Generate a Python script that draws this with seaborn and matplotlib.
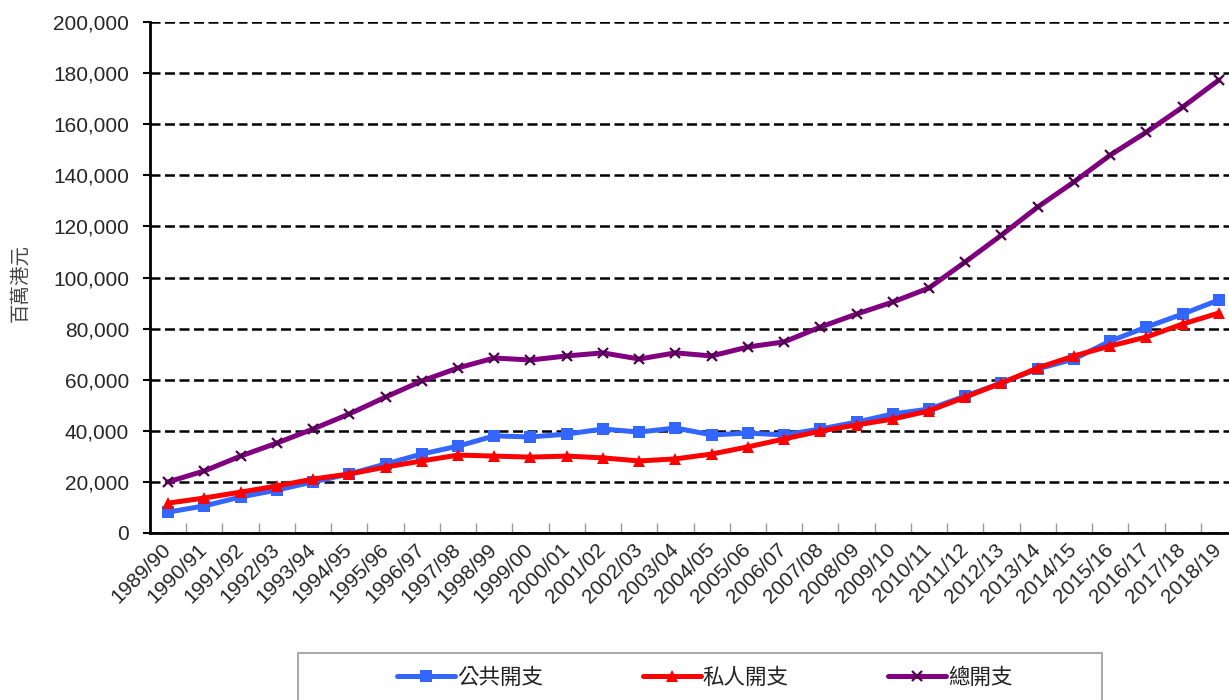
import pandas as pd
import seaborn as sns
import matplotlib.pyplot as plt
from matplotlib.patches import Rectangle
from matplotlib.ticker import FixedLocator, FuncFormatter

# 年度
years = ['1989/90', '1990/91', '1991/92', '1992/93', '1993/94', '1994/95',
         '1995/96', '1996/97', '1997/98', '1998/99', '1999/00', '2000/01',
         '2001/02', '2002/03', '2003/04', '2004/05', '2005/06', '2006/07',
         '2007/08', '2008/09', '2009/10', '2010/11', '2011/12', '2012/13',
         '2013/14', '2014/15', '2015/16', '2016/17', '2017/18', '2018/19']

# 百萬港元
public = [8200, 10600, 14100, 16800, 20000, 23100, 27000, 30900, 34000, 38000,
          37600, 38700, 40700, 39500, 41100, 38400, 39100, 38400, 40700, 43400,
          46600, 48500, 53600, 58700, 64200, 68100, 75100, 80600, 85700, 91200]
private = [11700, 13700, 16000, 18400, 21100, 23100, 25800, 28200, 30500, 30100,
           29700, 30100, 29400, 28200, 29000, 30900, 33700, 36800, 39900, 42300,
           44600, 47800, 53200, 58700, 64600, 69300, 73200, 76700, 81800, 86100]
total = [20000, 24300, 30100, 35200, 40700, 46600, 53200, 59500, 64600, 68500,
         67700, 69300, 70500, 68100, 70500, 69300, 72800, 74800, 80600, 85700,
         90400, 95900, 106100, 116600, 127600, 137400, 147900, 156900, 166700, 177300]

df = pd.DataFrame({'year': years, '公共開支': public, '私人開支': private, '總開支': total})

sns.set_style('white')
plt.rcParams['font.family'] = ['Liberation Sans', 'Noto Sans CJK TC', 'DejaVu Sans']
cjk = ['Noto Sans CJK TC', 'DejaVu Sans']

W, H = 1229, 700
fig = plt.figure(figsize=(W / 100, H / 100), dpi=100)
ax = fig.add_axes([150 / W, (H - 533) / H, 1087 / W, 511 / H])

styles = [
    ('公共開支', '#3366FF', 's', dict(markersize=8, markeredgewidth=0)),
    ('私人開支', '#FF0000', '^', dict(markersize=8.5, markeredgewidth=0)),
    ('總開支', '#800080', 'x', dict(markersize=6.5, markeredgewidth=1.6, markeredgecolor='#4d004d')),
]
for name, color, marker, mk in styles:
    sns.lineplot(data=df, x='year', y=name, ax=ax, sort=False, color=color,
                 linewidth=3.6, marker=marker, label=name, **mk)

ax.set_xlim(-0.5, len(years) - 0.5)
ax.set_ylim(0, 200000)
ax.set_yticks(range(0, 200001, 20000))
ax.yaxis.set_major_formatter(FuncFormatter(lambda v, p: f'{int(v):,}'))
ax.set_xlabel('')
ax.set_ylabel('')

# 網格線
ax.grid(False)
ax.yaxis.grid(True, color='black', linestyle=(0, (4, 1.8)), linewidth=1.8)
ax.set_axisbelow(True)

for s in ['top', 'right']:
    ax.spines[s].set_visible(False)
for s in ['left', 'bottom']:
    ax.spines[s].set_color('black')
    ax.spines[s].set_linewidth(2)

ax.tick_params(axis='y', direction='out', length=5, width=1.5, color='black',
               labelsize=15, pad=10, left=True)
ax.tick_params(axis='x', which='major', length=0, labelsize=15, pad=10)
ax.xaxis.set_minor_locator(FixedLocator([i + 0.5 for i in range(len(years))]))
ax.tick_params(axis='x', which='minor', direction='in', length=7, width=1,
               color='#999999', bottom=True)
for lbl in ax.get_xticklabels():
    lbl.set_rotation(45)
    lbl.set_ha('right')
    lbl.set_va('center')
    lbl.set_rotation_mode('anchor')

fig.text(20 / W, 1 - 283 / H, '百萬港元', rotation=90, ha='center', va='center',
         fontsize=14, color='#444444', family=cjk)

# 圖例
handles, labels = ax.get_legend_handles_labels()
ax.get_legend().remove()
fig.legend(handles, labels, loc='center', bbox_to_anchor=(705 / W, 1 - 678 / H),
           ncol=3, frameon=False, handlelength=2.7, handletextpad=0.1,
           columnspacing=4.6, prop={'family': cjk, 'size': 15.5}, labelcolor='#222222')
fig.patches.append(Rectangle((298 / W, -0.05), 804 / W, 0.05 + (H - 653) / H,
                             transform=fig.transFigure, fill=False,
                             edgecolor='#999999', linewidth=1.2))

fig.savefig('out.png', dpi=100)
